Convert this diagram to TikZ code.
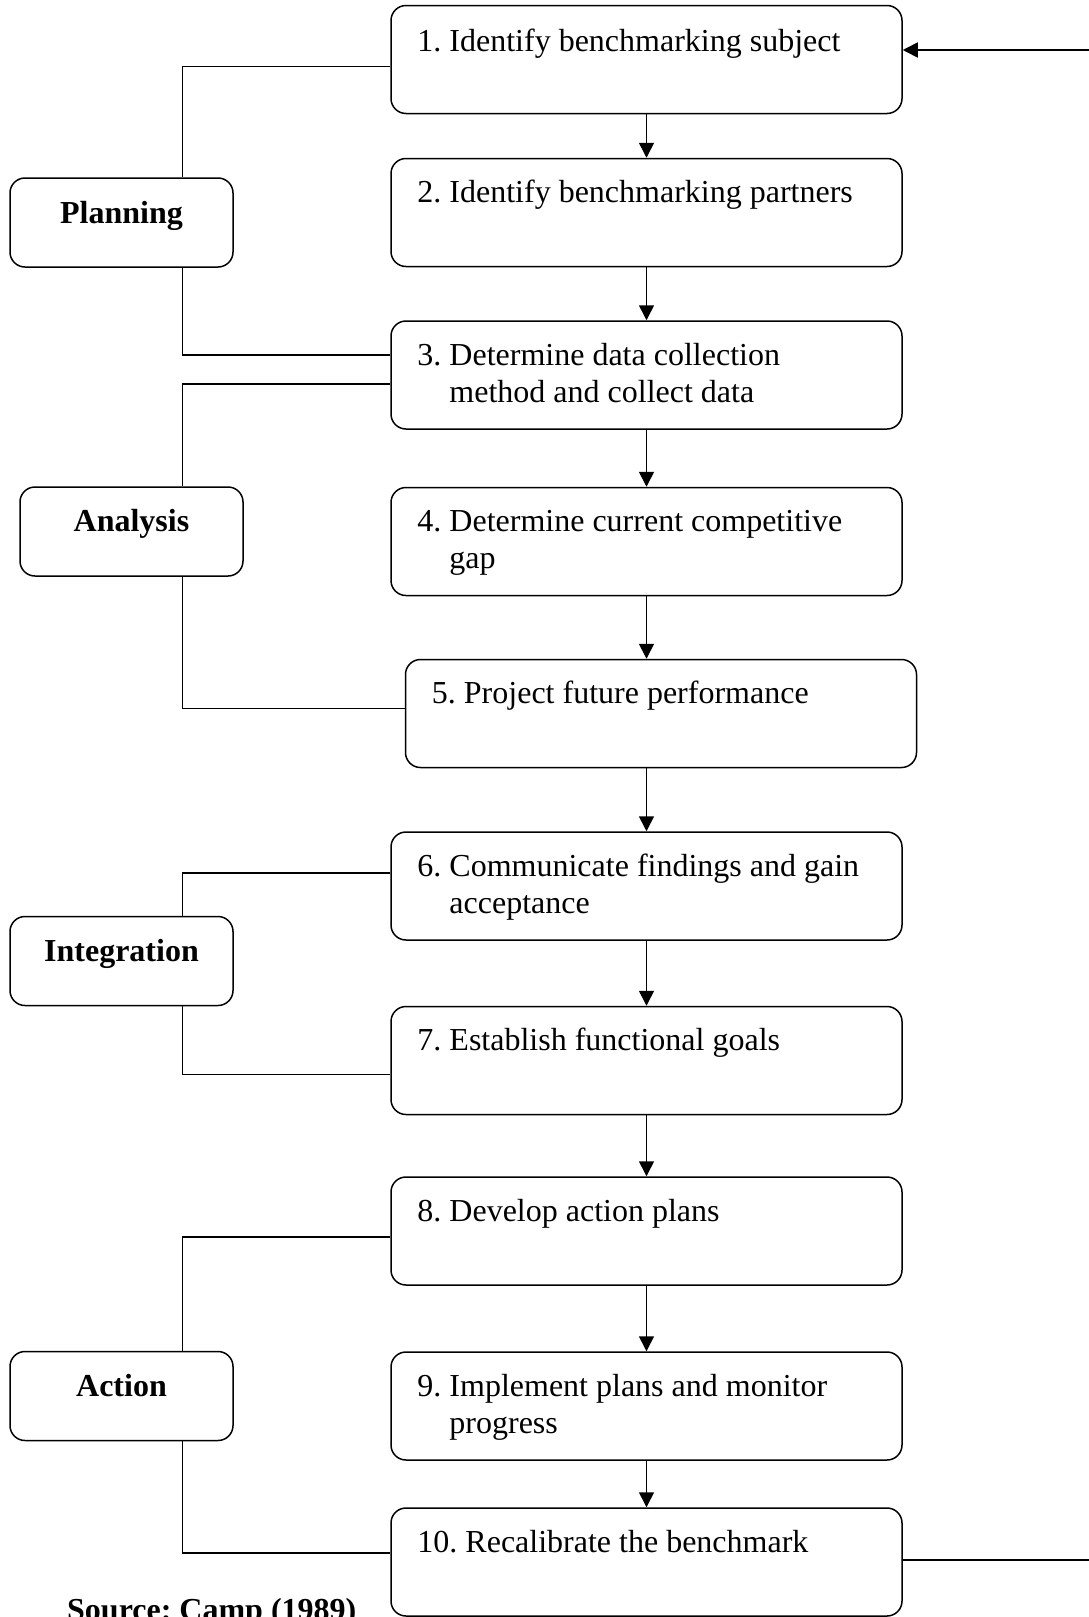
\documentclass[tikz,border=0pt]{standalone}
\usepackage{fontspec}
\setmainfont{Liberation Serif}
\frenchspacing
\usetikzlibrary{positioning,arrows.meta,calc}
\tikzset{
  node-step/.style={draw,line width=1.5pt,rounded corners=15pt,
    minimum width=511pt,minimum height=108pt,inner sep=0pt},
  node-phase/.style={draw,line width=1.5pt,rounded corners=15pt,
    minimum width=223pt,minimum height=89pt,inner sep=0pt},
  text-step/.style={anchor=base west,inner sep=0pt,align=left,
    font=\fontsize{32}{37}\selectfont},
  text-phase/.style={anchor=base,inner sep=0pt,
    font=\fontsize{32}{37}\selectfont\bfseries},
  arrow/.style={-{Triangle[length=15pt,width=15pt]},line width=1.6pt},
  link/.style={line width=1.6pt},
}
\newcommand{\hang}[2]{\begin{tabular}[t]{@{}l@{\ }l@{}}#1 & #2\end{tabular}}

\begin{document}
\begin{tikzpicture}[x=1pt,y=-1pt]
  \useasboundingbox (0,0) rectangle (1089,1617);
  % main steps
  \node[node-step] (s1)  at (646.5,59.5)  {};
  \node[node-step] (s2)  at (646.5,212.5) {};
  \node[node-step] (s3)  at (646.5,375)   {};
  \node[node-step] (s4)  at (646.5,541.5) {};
  \node[node-step] (s5)  at (661,713.5)   {};
  \node[node-step] (s6)  at (646.5,886)   {};
  \node[node-step] (s7)  at (646.5,1060.5){};
  \node[node-step] (s8)  at (646.5,1231)  {};
  \node[node-step] (s9)  at (646.5,1406)  {};
  \node[node-step] (s10) at (646.5,1562)  {};
  \node[text-step] (t1)  at ([shift={(27,47)}]s1.north west) {1. Identify benchmarking subject};
  \node[text-step] (t2)  at ([shift={(27,45)}]s2.north west) {2. Identify benchmarking partners};
  \node[text-step] (t3)  at ([shift={(27,45)}]s3.north west) {\hang{3.}{Determine data collection\\ & method and collect data}};
  \node[text-step] (t4)  at ([shift={(27,45)}]s4.north west) {\hang{4.}{Determine current competitive\\ & gap}};
  \node[text-step] (t5)  at ([shift={(27,45)}]s5.north west) {5. Project future performance};
  \node[text-step] (t6)  at ([shift={(27,45)}]s6.north west) {\hang{6.}{Communicate findings and gain\\ & acceptance}};
  \node[text-step] (t7)  at ([shift={(27,45)}]s7.north west) {7. Establish functional goals};
  \node[text-step] (t8)  at ([shift={(27,45)}]s8.north west) {8. Develop action plans};
  \node[text-step] (t9)  at ([shift={(27,45)}]s9.north west) {\hang{9.}{Implement plans and monitor\\ & progress}};
  \node[text-step] (t10) at ([shift={(27,45)}]s10.north west) {10. Recalibrate the benchmark};
  % phases
  \node[node-phase] (plan)  at (121.5,222.5) {};
  \node[node-phase] (anal)  at (131.5,531.5) {};
  \node[node-phase] (integ) at (121.5,961)   {};
  \node[node-phase] (act)   at (121.5,1396)  {};
  \node[text-phase] (tplan)  at ([shift={(0,46)}]plan.north)  {Planning};
  \node[text-phase] (tanal)  at ([shift={(0,45)}]anal.north)  {Analysis};
  \node[text-phase] (tinteg) at ([shift={(0,46)}]integ.north) {Integration};
  \node[text-phase] (tact)   at ([shift={(0,46)}]act.north)   {Action};
  \node[text-phase,anchor=base west] (src) at (67,1620) {Source: Camp (1989)};
  % flow
  \draw[arrow] (s1) -- (s2);
  \draw[arrow] (s2) -- (s3);
  \draw[arrow] (s3) -- (s4);
  \draw[arrow] (s4.south) -- (s4.south |- s5.north);
  \draw[arrow] (s6.north |- s5.south) -- (s6.north);
  \draw[arrow] (s6) -- (s7);
  \draw[arrow] (s7) -- (s8);
  \draw[arrow] (s8) -- (s9);
  \draw[arrow] (s9) -- (s10);
  % feedback loop
  \coordinate (loopin)  at (1089,50);
  \coordinate (loopout) at (1089,1560);
  \draw[arrow] (loopin) -- (loopin -| s1.east);
  \draw[link] (loopout -| s10.east) -- (loopout);
  % phase brackets
  \draw[link] ([shift={(0,7)}]s1.west)    -| ([shift={(61,0)}]plan.north);
  \draw[link] ([shift={(61,0)}]plan.south) |- ([shift={(0,-20)}]s3.west);
  \draw[link] ([shift={(0,9)}]s3.west)    -| ([shift={(51,0)}]anal.north);
  \draw[link] ([shift={(51,0)}]anal.south) |- ([shift={(0,-5)}]s5.west);
  \draw[link] ([shift={(0,-13)}]s6.west)  -| ([shift={(61,0)}]integ.north);
  \draw[link] ([shift={(61,0)}]integ.south) |- ([shift={(0,14)}]s7.west);
  \draw[link] ([shift={(0,6)}]s8.west)    -| ([shift={(61,0)}]act.north);
  \draw[link] ([shift={(61,0)}]act.south)  |- ([shift={(0,-9)}]s10.west);
\end{tikzpicture}
\end{document}
